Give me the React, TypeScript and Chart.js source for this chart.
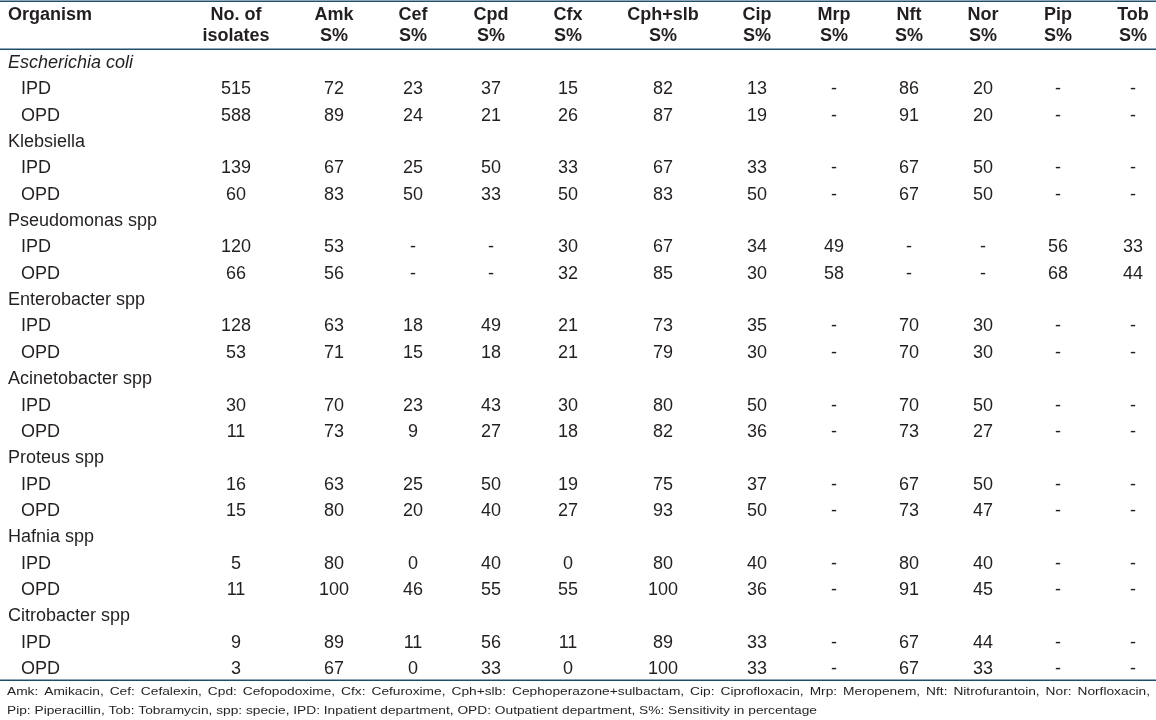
import React, { useEffect, useRef } from "react";
import { Chart, registerables } from "chart.js";

Chart.register(...registerables);

// ---------- DATA ----------
const organisms = [
  "Escherichia coli",
  "Klebsiella",
  "Pseudomonas spp",
  "Enterobacter spp",
  "Acinetobacter spp",
  "Proteus spp",
  "Hafnia spp",
  "Citrobacter spp",
];
const italicOrganisms = ["Escherichia coli"];
const departments = ["IPD", "OPD"];

const columnHeads = [
  ["No. of", "isolates"],
  ["Amk", "S%"],
  ["Cef", "S%"],
  ["Cpd", "S%"],
  ["Cfx", "S%"],
  ["Cph+slb", "S%"],
  ["Cip", "S%"],
  ["Mrp", "S%"],
  ["Nft", "S%"],
  ["Nor", "S%"],
  ["Pip", "S%"],
  ["Tob", "S%"],
];

// values in order: organism1 IPD, organism1 OPD, organism2 IPD, ...
const isolates = [515, 588, 139, 60, 120, 66, 128, 53, 30, 11, 16, 15, 5, 11, 9, 3];
const amk = [72, 89, 67, 83, 53, 56, 63, 71, 70, 73, 63, 80, 80, 100, 89, 67];
const cef = [23, 24, 25, 50, null, null, 18, 15, 23, 9, 25, 20, 0, 46, 11, 0];
const cpd = [37, 21, 50, 33, null, null, 49, 18, 43, 27, 50, 40, 40, 55, 56, 33];
const cfx = [15, 26, 33, 50, 30, 32, 21, 21, 30, 18, 19, 27, 0, 55, 11, 0];
const cphSlb = [82, 87, 67, 83, 67, 85, 73, 79, 80, 82, 75, 93, 80, 100, 89, 100];
const cip = [13, 19, 33, 50, 34, 30, 35, 30, 50, 36, 37, 50, 40, 36, 33, 33];
const mrp = [null, null, null, null, 49, 58, null, null, null, null, null, null, null, null, null, null];
const nft = [86, 91, 67, 67, null, null, 70, 70, 70, 73, 67, 73, 80, 91, 67, 67];
const nor = [20, 20, 50, 50, null, null, 30, 30, 50, 27, 50, 47, 40, 45, 44, 33];
const pip = [null, null, null, null, 56, 68, null, null, null, null, null, null, null, null, null, null];
const tob = [null, null, null, null, 33, 44, null, null, null, null, null, null, null, null, null, null];

const columnValues = [isolates, amk, cef, cpd, cfx, cphSlb, cip, mrp, nft, nor, pip, tob];

const footnotes = [
  "Amk: Amikacin, Cef: Cefalexin, Cpd: Cefopodoxime, Cfx: Cefuroxime, Cph+slb: Cephoperazone+sulbactam, Cip: Ciprofloxacin, Mrp: Meropenem, Nft: Nitrofurantoin, Nor: Norfloxacin,",
  "Pip: Piperacillin, Tob: Tobramycin, spp: specie, IPD: Inpatient department, OPD: Outpatient department, S%: Sensitivity in percentage",
];

// ---------- LAYOUT ----------
const W = 1156;
const H = 720;
const colX = [236, 334, 413, 491, 568, 663, 757, 834, 909, 983, 1058, 1133];
const leftX = 8;
const deptX = 21;
const yMin = -2.391;
const yMax = 24.933;
const headRow1 = -1.83;
const headRow2 = -1.02;
const topLineRow = -2.35;
const headLineRow = -0.53;
const footLineRow = 23.415;
const footRows = [23.85, 24.57];
const footLeft = 7;
const footRight1 = 1150;
const footRight2 = 817;
const lineColor = "#1f4f6f";
const textColor = "#231f20";
const FONT = "'Liberation Sans', Arial, sans-serif";

function rowOf(org: number, dept: number) {
  return org * 3 + 1 + dept;
}

const tablePlugin = {
  id: "tableText",
  afterDatasetsDraw(chart: any) {
    const ctx: CanvasRenderingContext2D = chart.ctx;
    const xs = chart.scales.x;
    const ys = chart.scales.y;
    ctx.save();

    // rules
    ctx.strokeStyle = lineColor;
    ctx.lineWidth = 1.5;
    [topLineRow, headLineRow, footLineRow].forEach((r) => {
      const y = Math.round(ys.getPixelForValue(r)) + 0.25;
      ctx.beginPath();
      ctx.moveTo(xs.getPixelForValue(0), y);
      ctx.lineTo(xs.getPixelForValue(W), y);
      ctx.stroke();
    });

    ctx.fillStyle = textColor;
    ctx.textBaseline = "middle";

    // header
    ctx.font = `bold 18px ${FONT}`;
    ctx.textAlign = "left";
    ctx.fillText("Organism", xs.getPixelForValue(leftX), ys.getPixelForValue(headRow1));
    ctx.textAlign = "center";
    columnHeads.forEach((h, j) => {
      ctx.fillText(h[0], xs.getPixelForValue(colX[j]), ys.getPixelForValue(headRow1));
      ctx.fillText(h[1], xs.getPixelForValue(colX[j]), ys.getPixelForValue(headRow2));
    });

    // row labels
    ctx.textAlign = "left";
    organisms.forEach((name, k) => {
      ctx.font = `${italicOrganisms.includes(name) ? "italic " : ""}18px ${FONT}`;
      ctx.fillText(name, xs.getPixelForValue(leftX), ys.getPixelForValue(k * 3));
      ctx.font = `18px ${FONT}`;
      departments.forEach((d, di) => {
        ctx.fillText(d, xs.getPixelForValue(deptX), ys.getPixelForValue(rowOf(k, di)));
      });
    });

    // cells from dataset elements
    ctx.font = `18px ${FONT}`;
    ctx.textAlign = "center";
    chart.data.datasets.forEach((ds: any, di: number) => {
      const meta = chart.getDatasetMeta(di);
      meta.data.forEach((el: any, i: number) => {
        const v = ds.data[i].v;
        ctx.fillText(v === null ? "-" : String(v), el.x, el.y);
      });
    });

    // footnotes (horizontally stretched, first line justified)
    ctx.font = `11.6px ${FONT}`;
    ctx.textAlign = "left";
    const x0 = xs.getPixelForValue(footLeft);
    const x1 = xs.getPixelForValue(footRight1);
    const x2 = xs.getPixelForValue(footRight2);
    const sx = (x2 - x0) / ctx.measureText(footnotes[1]).width;
    footnotes.forEach((line, li) => {
      const y = ys.getPixelForValue(footRows[li]);
      ctx.save();
      ctx.translate(x0, y);
      ctx.scale(sx, 1);
      if (li === 0) {
        const words = line.split(" ");
        const total = words.reduce((s, w) => s + ctx.measureText(w).width, 0);
        const gap = ((x1 - x0) / sx - total) / (words.length - 1);
        let x = 0;
        words.forEach((w) => {
          ctx.fillText(w, x, 0);
          x += ctx.measureText(w).width + gap;
        });
      } else {
        ctx.fillText(line, 0, 0);
      }
      ctx.restore();
    });

    ctx.restore();
  },
};

export default function App() {
  const ref = useRef<HTMLCanvasElement>(null);
  useEffect(() => {
    document.body.style.margin = "0";
    const datasets = columnValues.map((vals, j) => ({
      label: columnHeads[j][0],
      data: vals.map((v, i) => ({
        x: colX[j],
        y: rowOf(Math.floor(i / 2), i % 2),
        v,
      })),
      pointRadius: 0,
      showLine: false,
    }));
    const chart = new Chart(ref.current as HTMLCanvasElement, {
      type: "scatter",
      data: { datasets } as any,
      options: {
        animation: false,
        responsive: false,
        events: [],
        layout: { padding: 0 },
        plugins: { legend: { display: false }, tooltip: { enabled: false } },
        scales: {
          x: { type: "linear", min: 0, max: W, display: false },
          y: { type: "linear", min: yMin, max: yMax, reverse: true, display: false },
        },
      },
      plugins: [tablePlugin],
    });
    return () => chart.destroy();
  }, []);
  return (
    <div style={{ position: "absolute", left: 0, top: 0, width: W, height: H, background: "#fff" }}>
      <canvas ref={ref} width={W} height={H} style={{ display: "block" }} />
    </div>
  );
}
